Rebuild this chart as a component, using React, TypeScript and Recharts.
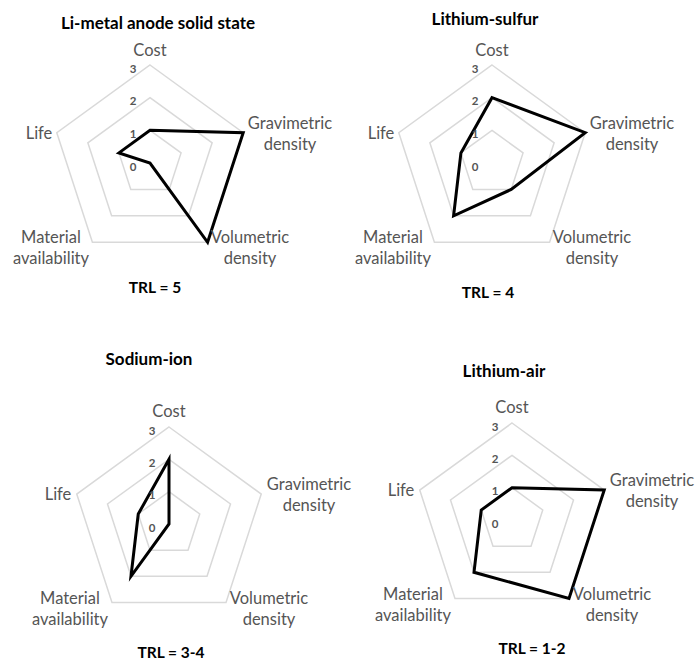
import React from 'react'
import {
  RadarChart,
  Radar,
  PolarGrid,
  PolarAngleAxis,
  PolarRadiusAxis,
} from 'recharts'

// Axes (clockwise from the top) and the score of each technology, 0..3
const CATEGORIES = ['Cost', 'Gravimetric density', 'Volumetric density', 'Material availability', 'Life']
const LI_METAL = [1, 3, 3, 0, 1]
const LI_SULFUR = [2, 3, 1, 2, 1]
const SODIUM_ION = [2, 0, 0, 2, 1]
const LI_AIR = [1, 3, 3, 2, 1]
const RADIUS_TICKS = [0, 1, 2, 3]

const FONT = 'Lato, "Open Sans", sans-serif'
const LABEL_FILL = '#555555'
const GRID_STROKE = '#d9d9d9'

// label centre offsets from the chart centre, per axis
const LABEL_OFFSETS: Record<string, { dx: number; dy: number }> = {
  Cost: { dx: 0, dy: -113 },
  'Gravimetric density': { dx: 140, dy: -30 },
  'Volumetric density': { dx: 100, dy: 84 },
  'Material availability': { dx: -99, dy: 84 },
  Life: { dx: -111, dy: -30 },
}

function buildRows(values: number[]) {
  return CATEGORIES.map((name, i) => ({ name, v: values[i] }))
}

interface PanelProps {
  title: string
  trl: string
  values: number[]
  left: number
  top: number
  cx: number
  cy: number
  r: number
  titleX: number
  titleY: number
  trlX: number
  trlY: number
}

function Panel({ title, trl, values, left, top, cx, cy, r, titleX, titleY, trlX, trlY }: PanelProps) {
  const data = buildRows(values)

  const angleTick = (props: any) => {
    const name = String(props.payload?.value ?? '')
    const off = LABEL_OFFSETS[name] || { dx: 0, dy: 0 }
    const lines = name.includes(' ') ? name.split(' ') : [name]
    const x = cx + off.dx
    const y0 = cy + off.dy - ((lines.length - 1) * 21) / 2
    return (
      <g>
        {lines.map((ln, i) => (
          <text
            key={i}
            x={x}
            y={y0 + i * 21}
            textAnchor="middle"
            dominantBaseline="central"
            fill={LABEL_FILL}
            fontSize={16.5}
            fontFamily={FONT}
          >
            {ln}
          </text>
        ))}
      </g>
    )
  }

  const radiusTick = (props: any) => (
    <text
      x={props.x - 17}
      y={props.y + 3}
      textAnchor="middle"
      dominantBaseline="central"
      fill={LABEL_FILL}
      fontSize={11.5}
      fontWeight={700}
      fontFamily={FONT}
    >
      {props.payload?.value}
    </text>
  )

  return (
    <>
      <div style={{ position: 'absolute', left, top, width: 380, height: 330 }}>
        <RadarChart
          width={380}
          height={330}
          data={data}
          cx={cx}
          cy={cy}
          outerRadius={r}
          margin={{ top: 0, right: 0, bottom: 0, left: 0 }}
        >
          <PolarGrid gridType="polygon" radialLines={false} stroke={GRID_STROKE} strokeWidth={1.5} />
          <PolarAngleAxis dataKey="name" tick={angleTick} tickLine={false} axisLine={false} />
          <PolarRadiusAxis
            angle={90}
            domain={[0, 3]}
            ticks={RADIUS_TICKS as any}
            tickCount={4}
            axisLine={false}
            tick={radiusTick}
          />
          <Radar
            dataKey="v"
            stroke="#000000"
            strokeWidth={3}
            strokeLinejoin="miter"
            fill="none"
            fillOpacity={0}
            dot={false}
            isAnimationActive={false}
          />
        </RadarChart>
      </div>
      <div style={{ ...titleStyle, fontSize: 17, left: titleX, top: titleY }}>{title}</div>
      <div style={{ ...titleStyle, left: trlX, top: trlY }}>{trl}</div>
    </>
  )
}

const titleStyle: React.CSSProperties = {
  position: 'absolute',
  transform: 'translate(-50%, -50%)',
  whiteSpace: 'nowrap',
  fontFamily: FONT,
  fontWeight: 700,
  fontSize: 15.5,
  color: '#000000',
}

export default function App() {
  return (
    <div
      style={{
        position: 'absolute',
        left: 0,
        top: 0,
        width: 695,
        height: 663,
        background: '#ffffff',
        overflow: 'hidden',
      }}
    >
      <Panel
        title="Li-metal anode solid state"
        trl="TRL = 5"
        values={LI_METAL}
        left={0}
        top={0}
        cx={150}
        cy={163}
        r={98}
        titleX={158}
        titleY={22}
        trlX={155}
        trlY={287}
      />
      <Panel
        title="Lithium-sulfur"
        trl="TRL = 4"
        values={LI_SULFUR}
        left={345}
        top={0}
        cx={147}
        cy={163}
        r={98}
        titleX={485}
        titleY={18}
        trlX={488}
        trlY={292}
      />
      <Panel
        title="Sodium-ion"
        trl="TRL = 3-4"
        values={SODIUM_ION}
        left={0}
        top={330}
        cx={169}
        cy={194}
        r={97}
        titleX={149}
        titleY={358}
        trlX={171}
        trlY={652}
      />
      <Panel
        title="Lithium-air"
        trl="TRL = 1-2"
        values={LI_AIR}
        left={345}
        top={330}
        cx={167}
        cy={190}
        r={97}
        titleX={504}
        titleY={370}
        trlX={532}
        trlY={648}
      />
    </div>
  )
}
